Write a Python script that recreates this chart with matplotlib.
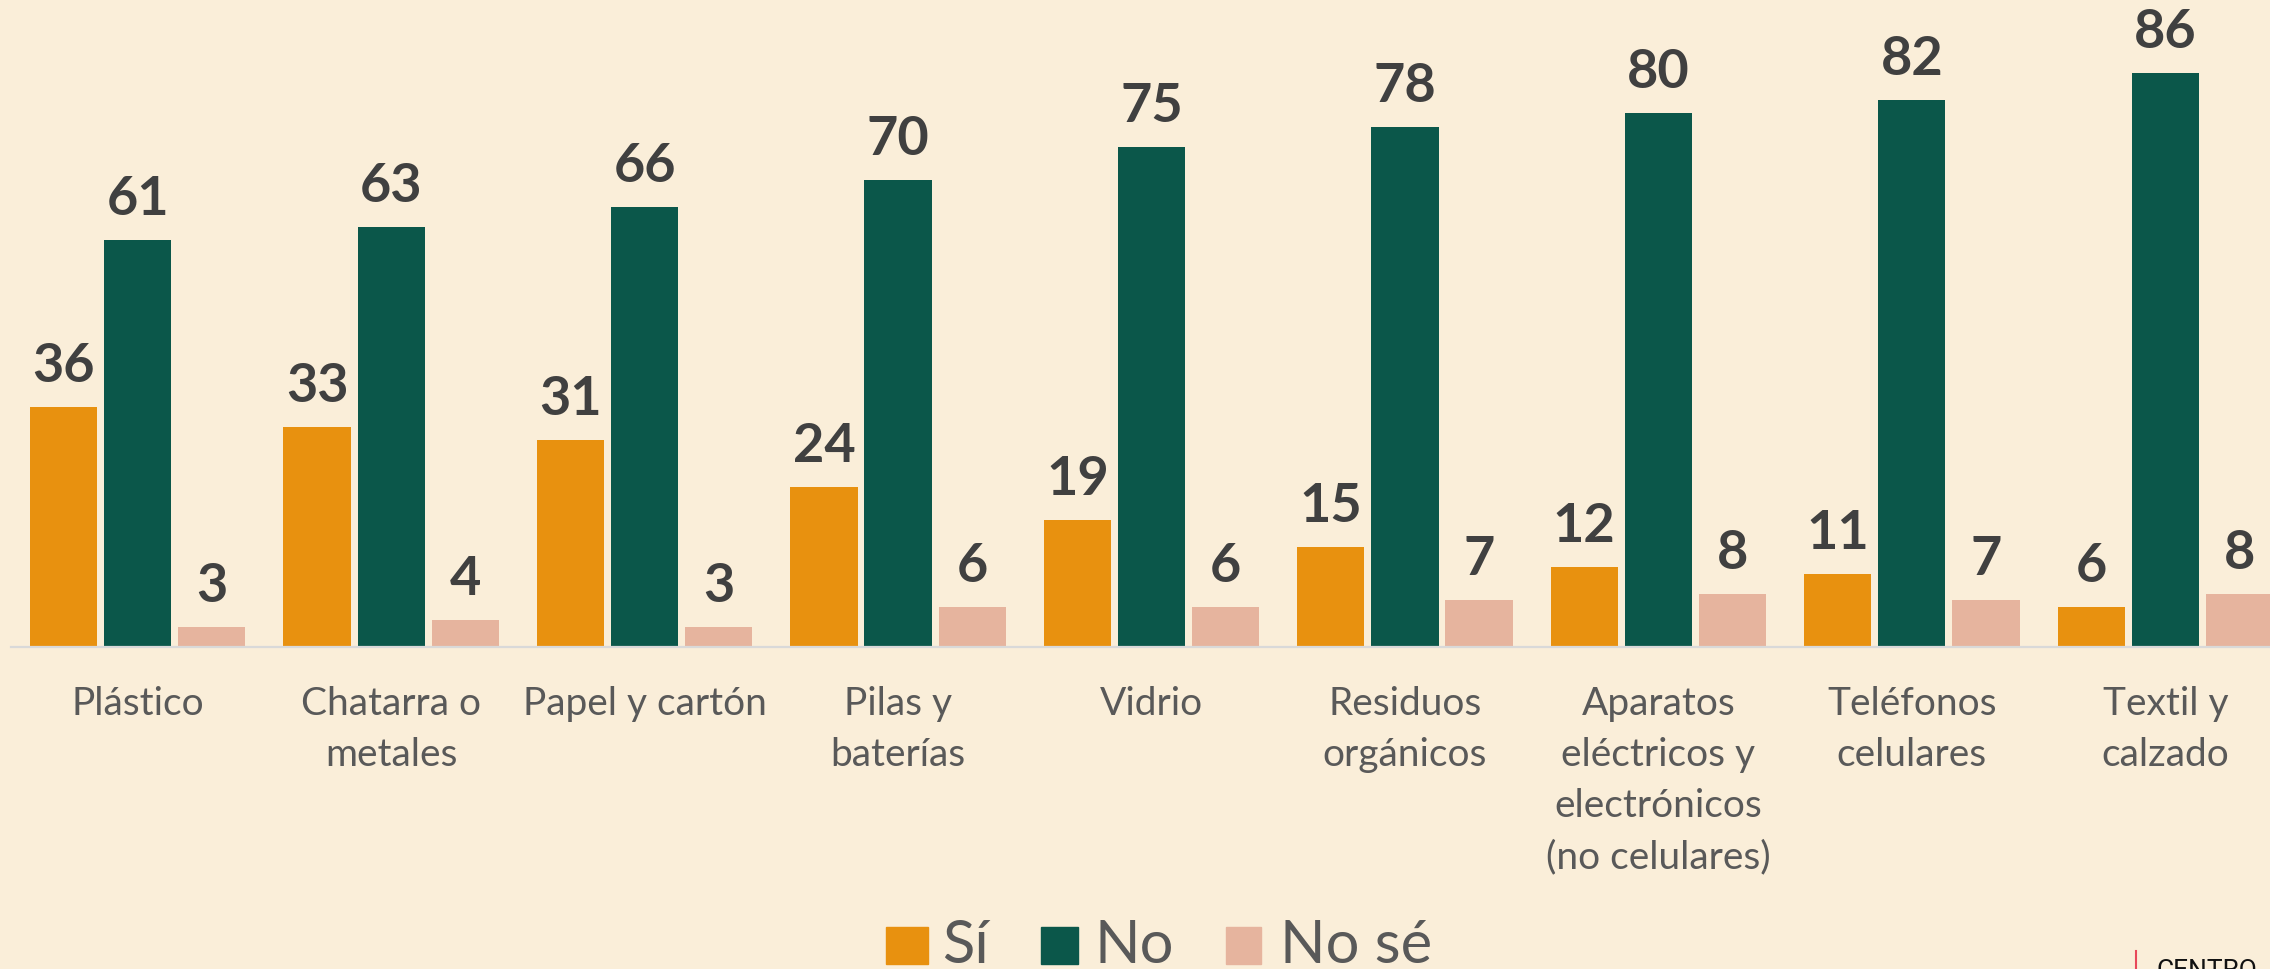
import matplotlib
matplotlib.use("Agg")
import matplotlib.pyplot as plt
import numpy as np
from matplotlib.patches import Rectangle
from matplotlib.lines import Line2D

categories = ["Plástico", "Chatarra o\nmetales", "Papel y cartón", "Pilas y\nbaterías",
              "Vidrio", "Residuos\norgánicos",
              "Aparatos\neléctricos y\nelectrónicos\n(no celulares)",
              "Teléfonos\ncelulares", "Textil y\ncalzado"]
si = [36, 33, 31, 24, 19, 15, 12, 11, 6]
no = [61, 63, 66, 70, 75, 78, 80, 82, 86]
nose = [3, 4, 3, 6, 6, 7, 8, 7, 8]
series_names = ["Sí", "No", "No sé"]
colors = ["#E8910F", "#0B574A", "#E6B49E"]

BG = "#FAEED9"
W, H = 2270, 969
fig = plt.figure(figsize=(W / 100, H / 100), dpi=100, facecolor=BG)

base_px = 647
ax = fig.add_axes([11 / W, (H - base_px) / H, 2281 / W, base_px / H])
ax.set_facecolor(BG)

x = np.arange(len(categories))
bw = 0.265
step = 0.2925
for i, (vals, c) in enumerate(zip([si, no, nose], colors)):
    bars = ax.bar(x + (i - 1) * step, vals, width=bw, color=c, zorder=2)
    for b, v in zip(bars, vals):
        ax.annotate(str(v), (b.get_x() + b.get_width() / 2, v),
                    xytext=(0, 18), textcoords="offset points",
                    ha="center", va="baseline", fontsize=39,
                    fontweight="bold", family="Lato", color="#404040")

ax.set_xlim(-0.5, 8.5)
ax.set_ylim(0, 97)
ax.set_yticks([])
for s in ["top", "right", "left"]:
    ax.spines[s].set_visible(False)
ax.spines["bottom"].set_color("#D9D9D9")
ax.spines["bottom"].set_linewidth(1.6)
ax.set_xticks(x)
ax.set_xticklabels(categories, fontsize=28, family="Lato", color="#595959",
                   linespacing=1.52)
ax.tick_params(axis="x", length=0, pad=28)

# legend (manual)
leg = [(886, 928, 942), (1041, 1078, 1094), (1226, 1261, 1280)]
for (sx, ex, tx), c, name in zip(leg, colors, series_names):
    fig.patches.append(Rectangle((sx / W, (H - 964) / H), (ex - sx) / W, 37 / H,
                                 transform=fig.transFigure, color=c, zorder=3))
    fig.text(tx / W, (H - 963) / H, name, fontsize=43, family="Lato",
             color="#595959", ha="left", va="baseline")

# partial logo at bottom right
fig.add_artist(Line2D([2136 / W, 2136 / W], [0, (H - 951) / H],
                      transform=fig.transFigure, color="#E8485A", lw=1.5))
fig.text(2156 / W, (H - 978) / H, "CENTRO", fontsize=19, family="Roboto",
         color="#111111", ha="left", va="baseline")

fig.savefig("out.png", dpi=100, facecolor=BG)
